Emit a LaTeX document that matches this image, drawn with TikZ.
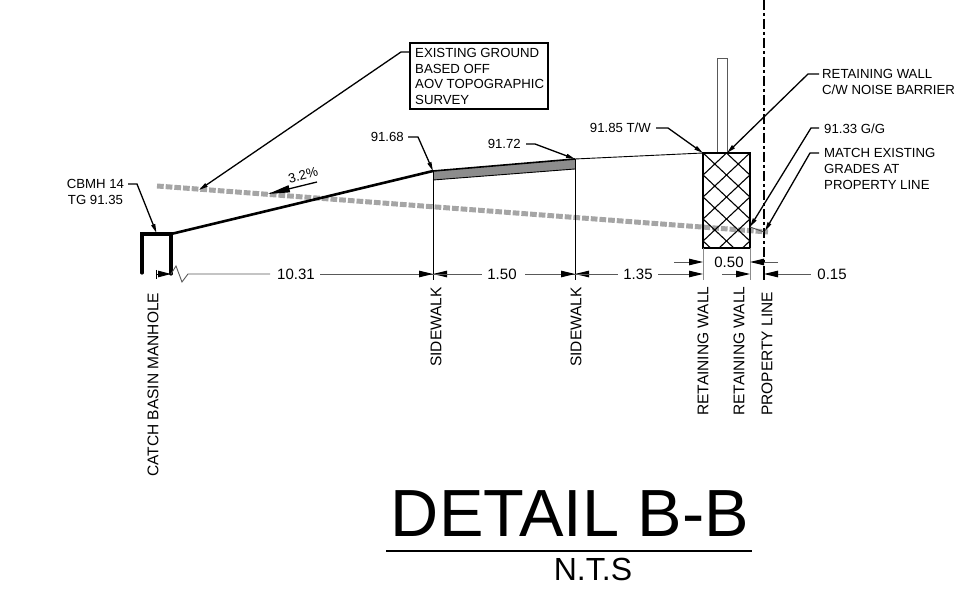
\documentclass[tikz,border=0pt]{standalone}
\usepackage{fontspec}
\setmainfont{Liberation Sans}
\usetikzlibrary{arrows.meta}
\definecolor{grnd}{RGB}{165,165,165}
\definecolor{walk}{RGB}{140,140,140}
\tikzset{
 lbl/.style={inner sep=0pt,font=\fontsize{13.2}{15.7}\selectfont,align=left},
 vlbl/.style={inner sep=0pt,font=\fontsize{15.5}{18}\selectfont,rotate=90,anchor=west},
 dimt/.style={inner sep=0pt,font=\fontsize{15}{18}\selectfont},
 lead/.style={line width=1.3pt,-{Triangle[length=9pt,width=4pt]}},
 dimline/.style={line width=0.9pt,draw=black!65},
 dimtip/.style={-{Triangle[length=14pt,width=6.5pt,fill=black,color=black]},line width=0.9pt,draw=black!65},
 thin line/.style={line width=0.9pt},
 heavy/.style={line width=2.6pt},
 thick line/.style={line width=3.2pt}
}
\begin{document}
\begin{tikzpicture}[x=1pt,y=-1pt]
\useasboundingbox (0,0) rectangle (970,601);
% ground
\draw[grnd,line width=5pt,dash pattern=on 6.7pt off 2pt] (157,186) -- (768,232);
% manhole
\coordinate (mhA) at (142,273);\coordinate (mhB) at (142,234);\coordinate (mhC) at (171,234);\coordinate (mhD) at (171,274);
\draw[thick line,line cap=round,line join=miter] (mhA)--(mhB)--(mhC)--(mhD);
\coordinate (sw1) at (433,171);\coordinate (sw2) at (575,159);
\coordinate (sw1b) at (433,180);\coordinate (sw2b) at (575,169);
\draw[heavy] (mhC)--(sw1);
\fill[walk] (sw1)--(sw2)--(sw2b)--(sw1b)--cycle;
\draw[line width=1.6pt] (sw1)--(sw2);
\draw[line width=0.9pt] (sw1b)--(sw2b);
\draw[thin line] (sw2)--(703,153);
% barrier
\draw[line width=0.8pt,draw=black!65] (717,153)--(717,58)--(727,58)--(727,153);
% wall crosshatch
\begin{scope}
\clip (703,153) rectangle (750,248);
\foreach \k in {-4,...,8}{
 \draw[line width=1.1pt] (666.5,153+\k*22+56.4)--(786.5,153+\k*22-56.4);
 \draw[line width=1.1pt] (666.5,153+\k*22-56.4)--(786.5,153+\k*22+56.4);
}
\end{scope}
\draw[line width=1.9pt] (703,153) rectangle (750,248);
% property line
\draw[line width=2.4pt,dash pattern=on 10pt off 3pt on 3pt off 3pt] (764,0)--(764,262);
\draw[line width=2.4pt] (764,266)--(764,280);
% verticals
\draw[thin line] (sw1)--(433,280);
\draw[thin line] (sw2)--(575,280);
\draw[thin line,draw=black!45] (703,248)--(703,280);
\draw[thin line,draw=black!45] (750,248)--(750,280);
% grade line to PL
\draw[thin line,draw=black!70] (750,227)--(764,232);
% dims
\draw[thin line] (156,270)--(156,279);
\draw[-{Triangle[length=13pt,width=6.5pt]},line width=.9pt] (156,274)--(171,274);
\draw[dimline] (171,274)--(176,266)--(182,282)--(188,274)--(270,274);
\node[dimt] (t1031) at (296,274) {10.31};
\draw[dimline] (320,274)--(433,274);
\draw[dimtip] (410,274)--(433,274);
\draw[dimtip] (456,274)--(433,274);
\draw[dimline] (433,274)--(482,274);
\node[dimt] (t150) at (502,274) {1.50};
\draw[dimline] (525,274)--(575,274);
\draw[dimtip] (552,274)--(575,274);
\draw[dimtip] (598,274)--(575,274);
\draw[dimline] (575,274)--(618,274);
\node[dimt] (t135) at (638,274) {1.35};
\draw[dimline] (658,274)--(688,274);
\draw[dimtip] (688,274)--(703,274);
\draw[dimtip] (722,274)--(750,274);
\draw[dimtip] (778,274)--(764,274);
\draw[dimline] (778,274)--(811,274);
\node[dimt] (t015) at (832,274) {0.15};
% 0.50
\draw[dimtip] (674,262)--(703,262);
\node[dimt] (t050) at (729,262) {0.50};
\draw[dimtip] (778,262)--(750,262);
% vertical labels
\node[vlbl] (v1) at (153,477) {CATCH BASIN MANHOLE};
\node[vlbl] (v2) at (436,367) {SIDEWALK};
\node[vlbl] (v3) at (576,367) {SIDEWALK};
\node[vlbl] (v4) at (703,416) {RETAINING WALL};
\node[vlbl] (v5) at (739,416) {RETAINING WALL};
\node[vlbl] (v6) at (767,416) {PROPERTY LINE};
% labels
\node[lbl,align=center] (l1) at (95.5,192) {CBMH 14\\TG 91.35};
\draw[lead] (128,184)--(137,184)--(156.5,233);
\node[lbl,anchor=west] (l2) at (415,76.5) {EXISTING GROUND\\BASED OFF\\AOV TOPOGRAPHIC\\SURVEY};
\draw[line width=1.3pt] (410,43) rectangle (548,109);
\draw[lead] (410,52)--(401,52)--(199,190);
\node[lbl,anchor=east] (l3) at (404,137) {91.68};
\draw[lead] (408,137)--(418,137)--(433,171);
\node[lbl,anchor=east] (l4) at (521,144) {91.72};
\draw[lead] (526,144)--(535,144)--(575,159);
\node[lbl,anchor=east] (l5) at (651,128) {91.85 T/W};
\draw[lead] (656,128)--(668,128)--(703,153);
\node[lbl,anchor=west] (l6) at (822,82) {RETAINING WALL\\C/W NOISE BARRIER};
\draw[lead] (819,74)--(808,74)--(727,153);
\node[lbl,anchor=west] (l7) at (824,128.5) {91.33 G/G};
\draw[lead] (819,128)--(811,128)--(750,227);
\node[lbl,anchor=west] (l8) at (824,169) {MATCH EXISTING\\GRADES AT\\PROPERTY LINE};
\draw[lead] (819,153)--(810,153)--(765,231);
% slope
\node[inner sep=0pt,rotate=14,font=\fontsize{13.2}{15}\selectfont] (sl) at (303,175) {3.2\%};
\draw[line width=1.3pt,-{Triangle[length=22pt,width=7pt]}] (317,182)--(268,194);
% title
\node[inner sep=0pt,font=\fontsize{66.7}{70}\selectfont] (title) at (570,514) {DETAIL B-B};
\draw[line width=2pt] (386,551)--(752,551);
\node[inner sep=0pt,font=\fontsize{32}{36}\selectfont] (nts) at (593,569) {N.T.S};
\end{tikzpicture}
\end{document}
